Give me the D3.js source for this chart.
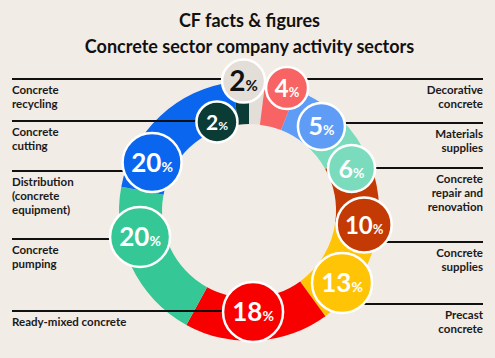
<!DOCTYPE html>
<html><head><meta charset="utf-8">
<script src="https://cdn.jsdelivr.net/npm/d3@7"></script>
<style>
html,body{margin:0;padding:0;background:#F2ECE7;}
svg{display:block;}
text{font-family:Lato,"Open Sans",sans-serif;}
</style></head>
<body>
<svg id="chart" width="495" height="358"></svg>
<script>
// ---- data (clockwise from 12 o'clock) ----
const categories = ["Concrete recycling","Decorative concrete","Materials supplies","Concrete repair and renovation","Concrete supplies","Precast concrete","Ready-mixed concrete","Concrete pumping","Distribution (concrete equipment)","Concrete cutting"];
const values = [2,4,5,6,10,13,18,20,20,2];
const labelLines = [["Concrete","recycling"],["Decorative","concrete"],["Materials","supplies"],["Concrete","repair and","renovation"],["Concrete","supplies"],["Precast","concrete"],["Ready-mixed concrete"],["Concrete","pumping"],["Distribution","(concrete","equipment)"],["Concrete","cutting"]];
const colors = ["#E3DFD8","#F86363","#5E9CF6","#7BDBBD","#C43A05","#FFC405","#F80000","#35C795","#0A66EF","#0B3B35"];
const textColors = ["#111","#fff","#fff","#fff","#fff","#fff","#fff","#fff","#fff","#fff"];
const titleLines = ["CF facts & figures","Concrete sector company activity sectors"];

// ---- layout (badge polar position, badge size, leader line) ----
const badgeAngle = [-2.4,17.2,40.6,67.5,96.9,127.7,177.7,256.6,296.6,-19.8];
const badgeDist  = [130,128.7,111.3,111,116,117.6,101,112,108.4,94.6];
const badgeR     = [21.5,21,23.5,23.5,27.5,30,30,30,29.5,20.5];
const badgeFont  = [28,24,25,25,24,26,26,26,26,21];
const leaderY    = [79,79,123,168,242,304,311,239,171,121];
const side       = ["L","R","R","R","R","R","L","L","L","L"];

const W=495,H=358,cx=249,cy=211,rIn=87,rOut=130;
const svg=d3.select("#chart");
svg.append("rect").attr("width",W).attr("height",H).attr("fill","#F2ECE7");

// title
svg.append("g").selectAll("text").data(titleLines).join("text")
  .attr("x",249.5).attr("y",(d,i)=>27+i*26)
  .attr("text-anchor","middle").attr("font-weight",700).attr("font-size",18)
  .attr("fill","#111").text(d=>d);

const data=categories.map((c,i)=>({c,v:values[i],i}));
const pie=d3.pie().sort(null).value(d=>d.v).startAngle(0).endAngle(2*Math.PI);
const arc=d3.arc().innerRadius(rIn).outerRadius(rOut);
const g=svg.append("g").attr("transform",`translate(${cx},${cy})`);
g.selectAll("path").data(pie(data)).join("path")
  .attr("d",arc).attr("fill",d=>colors[d.data.i]);

const ang=d3.scaleLinear().domain([0,360]).range([0,2*Math.PI]);
const bx=i=>cx+badgeDist[i]*Math.sin(ang(badgeAngle[i]));
const by=i=>cy-badgeDist[i]*Math.cos(ang(badgeAngle[i]));

// leader lines
const xL=12,xR=483;
svg.append("g").selectAll("line").data(data).join("line")
  .attr("x1",d=>side[d.i]==="L"?xL:xR).attr("x2",d=>bx(d.i))
  .attr("y1",d=>leaderY[d.i]).attr("y2",d=>leaderY[d.i])
  .attr("stroke","#111").attr("stroke-width",2);

// category labels
const lab=svg.append("g").selectAll("text").data(data).join("text")
  .attr("text-anchor",d=>side[d.i]==="L"?"start":"end")
  .attr("font-size",11.5).attr("font-weight",700).attr("fill","#1a1a1a");
lab.each(function(d){
  const t=d3.select(this);
  labelLines[d.i].forEach((s,k)=>{
    t.append("tspan").attr("x",side[d.i]==="L"?xL:xR)
     .attr("y",leaderY[d.i]+15+k*14).text(s);
  });
});

// badges
const b=svg.append("g").selectAll("g").data(data).join("g")
  .attr("transform",d=>`translate(${bx(d.i)},${by(d.i)})`);
b.append("circle").attr("r",d=>badgeR[d.i]).attr("fill",d=>colors[d.i])
  .attr("stroke","#fff").attr("stroke-width",2.5);
const bt=b.append("text").attr("text-anchor","middle").attr("font-weight",700)
  .attr("fill",d=>textColors[d.i])
  .attr("y",d=>badgeFont[d.i]*0.36);
bt.append("tspan").attr("font-size",d=>badgeFont[d.i]).text(d=>d.v);
bt.append("tspan").attr("font-size",d=>Math.round(badgeFont[d.i]*0.55)).text("%");
</script>
</body></html>
